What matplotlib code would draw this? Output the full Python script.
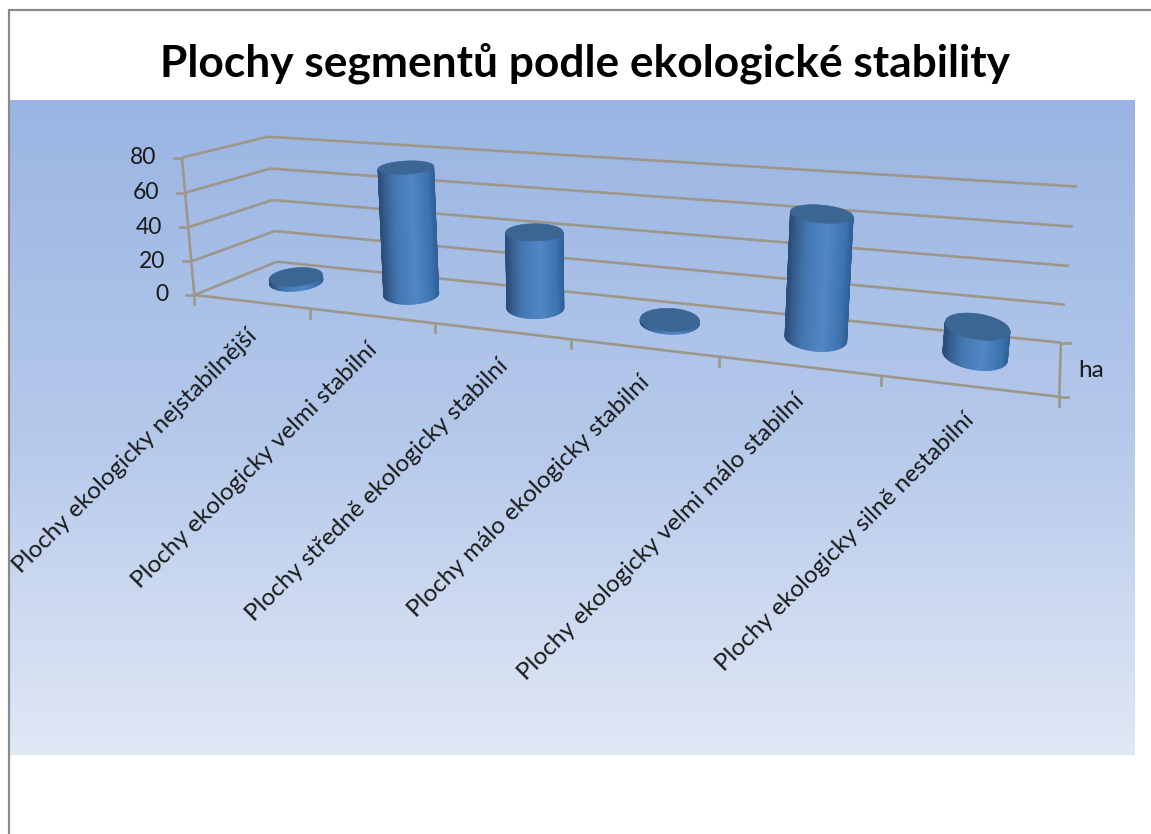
import numpy as np
import matplotlib
matplotlib.use("Agg")
import matplotlib.pyplot as plt
from matplotlib.colors import LinearSegmentedColormap
from matplotlib.collections import PolyCollection
from matplotlib.patches import Polygon

title = "Plochy segmentů podle ekologické stability"
categories = ["Plochy ekologicky nejstabilnější", "Plochy ekologicky velmi stabilní",
              "Plochy středně ekologicky stabilní", "Plochy málo ekologicky stabilní",
              "Plochy ekologicky velmi málo stabilní", "Plochy ekologicky silně nestabilní"]
values = [3, 74, 43, 1.5, 65, 15]
y_ticks = [0, 20, 40, 60, 80]
series_name = "ha"

plt.rcParams['font.family'] = ['Lato', 'DejaVu Sans']
fig = plt.figure(figsize=(11.51, 8.34), dpi=100, facecolor='white')
ax = fig.add_axes([0, 0, 1, 1])

# background gradient
bg = LinearSegmentedColormap.from_list('bg', ['#9ab5e3', '#b4c8ea', '#e1e8f6'])
ax.imshow(np.linspace(0, 1, 256)[:, None], extent=(10, 1135, 755, 100), cmap=bg, aspect='auto', zorder=0)
ax.set_xlim(0, 1151)
ax.set_ylim(834, 0)
ax.axis('off')
ax.plot([9, 9, 1151], [834, 10, 10], color='#8a8a8a', lw=1.6, zorder=1, solid_joinstyle='miter')

# 3D chart space (category, value, depth) -> canvas, calibrated on the frame corners
n = len(categories)
vmax = y_ticks[-1]
world = [(0, vmax, 0), (0, 0, 0), (0, vmax, 1), (0, 0, 1), (n, vmax, 1), (n, 0, 1), (n, 0, 0),
         (1, 0, 0), (3, 0, 0), (5, 0, 0), (n, 20, 1)]
canvas = [(182, 157), (195, 294), (268, 137), (277, 262), (1077, 187), (1061, 342), (1059, 396),
          (309, 309), (571, 340), (881, 377), (1065, 304)]
A = []
for (X, Y, Z), (u, v) in zip(world, canvas):
    A.append([X, Y, Z, 1, 0, 0, 0, 0, -u*X, -u*Y, -u*Z, -u])
    A.append([0, 0, 0, 0, X, Y, Z, 1, -v*X, -v*Y, -v*Z, -v])
P = np.linalg.svd(np.array(A, float))[2][-1].reshape(3, 4)


def project(x, y, z):
    x, y, z = np.broadcast_arrays(x, y, z)
    h = P @ np.vstack([x.ravel(), y.ravel(), z.ravel(), np.ones(x.size)])
    return h[0] / h[2], h[1] / h[2]


GRID = '#9d968b'
LW = 1.9


def line3(a, b, **kw):
    xs, ys = project([a[0], b[0]], [a[1], b[1]], [a[2], b[2]])
    ax.plot(xs, ys, color=GRID, lw=LW, zorder=2, solid_capstyle='butt', **kw)
    return xs, ys


for v in y_ticks:
    line3((0, v, 0), (0, v, 1))
    line3((0, v, 1), (n, v, 1))
    x0, y0 = project(0, v, 0)
    ax.plot([x0[0] - 8, x0[0]], [y0[0], y0[0]], color=GRID, lw=LW, zorder=2)
    ax.text(x0[0] - 26, y0[0], str(v), ha='right', va='center', fontsize=16.5, color='#1a1a1a', zorder=5)
line3((0, 0, 0), (0, vmax, 0))
line3((0, 0, 0), (n, 0, 0))
line3((n, 0, 0), (n, 0, 1))
for i in range(n + 1):
    x0, y0 = project(i, 0, 0)
    ax.plot([x0[0], x0[0]], [y0[0], y0[0] + 9], color=GRID, lw=LW, zorder=2)
for z in (0, 1):
    x0, y0 = project(n, 0, z)
    ax.plot([x0[0], x0[0] + 9], [y0[0], y0[0]], color=GRID, lw=LW, zorder=2)

# cylinders
ramp = LinearSegmentedColormap.from_list('cyl', [(0, '#2f5f96'), (0.12, '#3c72ae'), (0.42, '#4f87c8'),
                                                 (0.72, '#4477b1'), (0.9, '#365f92'), (1, '#2b4d78')])
RX, RZ, ZC = 0.205, 0.27, 0.55


def ring(i, val, t):
    """Outline of the cylinder section at height val, as seen on the canvas."""
    cx = i + 0.5
    px, py = project([cx - RX, cx, cx + RX], val, ZC)
    _, qy = project([cx, cx], val, [ZC - RZ, ZC + RZ])
    a = 15.25 + 0.5 * (px[2] - px[0]) / 2
    b = (qy[0] - qy[1]) / 2
    tilt = (px[1] - 560) / 3000
    return px[1] + a * np.cos(t), py[1] + b * np.sin(t) + tilt * a * np.cos(t)


theta = np.linspace(0, np.pi, 61)
for i, val in enumerate(values):
    bx, by = ring(i, 0, theta)
    tx, ty = ring(i, val, theta)
    quads, cols = [], []
    for k in range(len(theta) - 1):
        quads.append([(bx[k], by[k]), (bx[k + 1], by[k + 1]), (tx[k + 1], ty[k + 1]), (tx[k], ty[k])])
        cols.append(ramp(1 - (np.cos(theta[k]) + np.cos(theta[k + 1]) + 2) / 4))
    body = PolyCollection(quads, facecolors=cols, edgecolors=cols, linewidths=0.6, zorder=3)
    body.set_snap(False)
    ax.add_collection(body)
    ex, ey = ring(i, val, np.linspace(0, 2 * np.pi, 121))
    ax.add_patch(Polygon(np.c_[ex, ey], closed=True, facecolor='#3b6694', edgecolor='#3b6694', lw=0.5, zorder=4))

# labels
for i, lab in enumerate(categories):
    x0, y0 = project(i + 0.5, 0, 0)
    ax.text(x0[0] + 3, y0[0] + 31, lab, rotation=45, rotation_mode='anchor', ha='right', va='center',
            fontsize=17.5, color='#1a1a1a', zorder=5)
xr, yr = project(n, 0, 0.5)
ax.text(xr[0] + 18, yr[0] + 3, series_name, ha='left', va='center', fontsize=17.5, color='#1a1a1a', zorder=5)
ax.text(585, 63, title, ha='center', va='center', fontsize=31.9, fontweight='bold', color='black', zorder=5)

fig.savefig('out.png', dpi=100, facecolor='white')
